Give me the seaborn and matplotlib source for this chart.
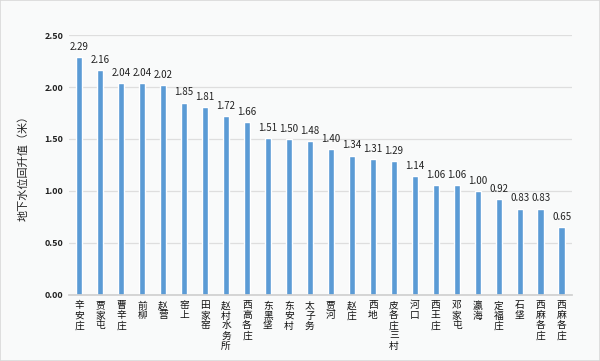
import pandas as pd
import seaborn as sns
import matplotlib.pyplot as plt

# villages and groundwater rebound values (m)
villages = ['辛安庄', '贾家屯', '曹辛庄', '前柳', '赵营', '窑上', '田家窑', '赵村水务所',
            '西高各庄', '东黑垡', '东安村', '太子务', '贾河', '赵庄', '西地', '皮各庄三村',
            '河口', '西王庄', '邓家屯', '瀛海', '定福庄', '石垡', '西麻各庄', '西麻各庄']
values = [2.29, 2.16, 2.04, 2.04, 2.02, 1.85, 1.81, 1.72, 1.66, 1.51, 1.50, 1.48,
          1.40, 1.34, 1.31, 1.29, 1.14, 1.06, 1.06, 1.00, 0.92, 0.83, 0.83, 0.65]
y_ticks = [0.0, 0.5, 1.0, 1.5, 2.0, 2.5]

sns.set_theme(style='white')
plt.rcParams['font.family'] = ['Noto Sans CJK SC', 'DejaVu Sans']

df = pd.DataFrame({'pos': range(len(villages)), 'value': values})

fig = plt.figure(figsize=(6, 3.61), dpi=100, facecolor='#f9fafa')
ax = fig.add_axes([0.1145, 0.183, 0.839, 0.720])
ax.set_facecolor('#f9fafa')

sns.barplot(data=df, x='pos', y='value', color='#5b9bd5', width=0.3,
            saturation=1, ax=ax)

for i, v in enumerate(values):
    ax.text(i, v + 0.05, f'{v:.2f}', ha='center', va='bottom', fontsize=7,
            color='#222222')

ax.set_ylim(0, 2.5)
ax.set_yticks(y_ticks)
ax.set_yticklabels([f'{t:.2f}' for t in y_ticks], fontsize=6.5, fontweight='bold',
                   color='#222222')
ax.set_xticks(range(len(villages)))
ax.set_xticklabels(['\n'.join(n) for n in villages], fontsize=7, va='top',
                   linespacing=1.0, color='#111111')
ax.set_xlim(-0.5, len(villages) - 0.5)
ax.yaxis.grid(True, color='#dedede', linewidth=0.9)
ax.set_axisbelow(True)
for s in ['top', 'right', 'left']:
    ax.spines[s].set_visible(False)
ax.spines['bottom'].set_color('#d0d0d0')
ax.tick_params(axis='both', length=0, pad=4)
ax.set_xlabel('')
ax.set_ylabel('地下水位回升值（米）', fontsize=8, labelpad=11)

# light frame around the whole picture
fig.patches.append(plt.Rectangle((0, 0), 1, 1, transform=fig.transFigure,
                                 fill=False, edgecolor='#d9d9d9', linewidth=1.2))

fig.savefig('out.png', dpi=100, facecolor=fig.get_facecolor())
